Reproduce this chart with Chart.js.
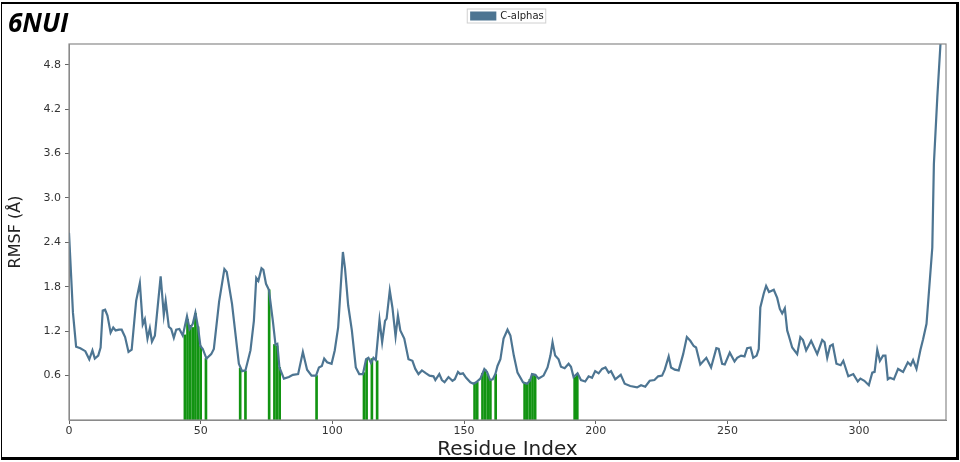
<!DOCTYPE html>
<html>
<head>
<meta charset="utf-8">
<script src="https://cdn.jsdelivr.net/npm/chart.js@4.4.1/dist/chart.umd.min.js"></script>
<style>
  body { margin: 0; background: #fff; }
  #wrap { position: relative; width: 960px; height: 462px; }
  #frame {
    position: absolute; left: 1px; top: 2px; width: 954px; height: 453px;
    border-top: 2px solid #000; border-left: 1px solid #000;
    border-right: 3px solid #000; border-bottom: 3px solid #000;
    pointer-events: none;
  }
  #pdb {
    position: absolute; left: 8px; top: 4px;
    font: italic bold 26px "Open Sans", sans-serif; color: #000;
  }
</style>
</head>
<body>
<div id="wrap">
  <canvas id="chart" width="960" height="462"></canvas>
  <div id="frame"></div>
  <div id="pdb">6NUI</div>
</div>
<script>
var residues = [0, 1.5, 2.7, 4.3, 6.2, 7.7, 8.9, 9.8, 11.1, 12, 12.8, 13.7, 14.6, 15.8, 16.8, 17.7, 19, 20, 21.3, 22.6, 23.8,
  25.5, 26.9, 28, 28.8, 29.8, 30.7, 31.5, 32.6, 34.8, 36, 36.7, 37.9, 38.8, 39.8, 40.7, 41.9, 43.2, 44.8, 45.8, 47, 48, 49,
  49.9, 50.8, 52.2, 54, 55, 57, 59, 59.9, 61.9, 64.5, 65.7, 67, 68.9, 70.2, 71.1, 71.9, 73.1, 73.8, 74.8, 75.9, 77.4, 78.4,
  79.1, 79.9, 81.6, 83.5, 85, 87, 88.8, 90.4, 92.1, 93.8, 94.9, 96, 96.9, 98, 99.7, 100.9, 102.2, 104, 104.8, 106, 107.4,
  108.9, 110.2, 111.6, 112.8, 113.7, 114.7, 115.6, 116.5, 117.9, 118.9, 120, 120.6, 121.8, 122.8, 124, 124.9, 125.8, 127.3,
  128.9, 130.4, 131.5, 132.7, 134, 135.6, 136.9, 138.4, 139.1, 140.6, 141.6, 142.6, 144.1, 145.6, 146.5, 147.7, 148.5, 149.6,
  150.8, 152.4, 153.6, 154.6, 156.2, 157.7, 158.7, 159.9, 160.9, 161.9, 162.7, 163.8, 165, 166.5, 167.6, 168.9, 170.3, 172.4,
  173.9, 175, 175.8, 177, 178.3, 180.2, 181.7, 182.8, 183.6, 184.6, 185.9, 186.8, 188.2, 189.7, 190.6, 191.6, 193.1, 194.4,
  196, 197.3, 198.6, 199.8, 201.1, 202.4, 203.7, 204.9, 205.8, 207.4, 209.5, 211, 213.1, 215.7, 217.2, 218.8, 220.5, 222.3,
  223.7, 225.2, 226.2, 227.7, 228.6, 230, 231.5, 233.2, 234.6, 235.9, 237.2, 238.1, 239.7, 242, 243.8, 245.8, 246.7, 248,
  249, 250.9, 252.7, 253.7, 255.2, 256.5, 257.5, 258.8, 259.8, 261.1, 261.9, 262.5, 263.8, 264.7, 265.8, 267.6, 268.9, 269.9,
  270.8, 271.8, 272.7, 273.3, 274.6, 276.5, 277.7, 278.7, 279.9, 281.8, 284.1, 286, 286.9, 287.9, 289, 290, 291.4, 293, 294,
  295.9, 297.8, 299.5, 300.5, 302, 303.7, 305, 305.9, 306.9, 307.9, 309.1, 310, 310.9, 311.7, 313.2, 314.8, 316.7, 318.5,
  319.6, 320.5, 321.8, 323.3, 324.3, 325.6, 327.8, 328.4, 329.7, 330.9, 332];
var rmsf = [2.53, 1.45, 0.99, 0.97, 0.93, 0.82, 0.94, 0.83, 0.87, 0.98, 1.48, 1.49, 1.41, 1.18, 1.25, 1.21, 1.22, 1.22, 1.12, 0.92, 0.95,
  1.61, 1.85, 1.29, 1.36, 1.10, 1.24, 1.06, 1.14, 1.94, 1.42, 1.61, 1.26, 1.23, 1.11, 1.22, 1.23, 1.14, 1.40, 1.23, 1.30, 1.45, 1.25,
  1.0, 0.96, 0.83, 0.89, 0.96, 1.6, 2.04, 2.0, 1.57, 0.76, 0.66, 0.67, 0.94, 1.34, 1.92, 1.88, 2.05, 2.03, 1.84, 1.76, 1.34, 1.02,
  1.03, 0.71, 0.56, 0.58, 0.61, 0.62, 0.92, 0.68, 0.60, 0.60, 0.71, 0.73, 0.83, 0.78, 0.76, 0.94, 1.25, 2.27, 2.05, 1.55, 1.21,
  0.71, 0.62, 0.62, 0.82, 0.84, 0.77, 0.84, 0.81, 1.35, 1.05, 1.34, 1.37, 1.75, 1.52, 1.13, 1.41, 1.21, 1.10,
  0.82, 0.80, 0.69, 0.62, 0.67, 0.63, 0.60, 0.59, 0.54, 0.62, 0.54, 0.51, 0.58, 0.53, 0.55, 0.65, 0.62, 0.63,
  0.57, 0.51, 0.49, 0.51, 0.56, 0.69, 0.65, 0.54, 0.55, 0.62, 0.73, 0.82, 1.10, 1.22, 1.14, 0.87, 0.64, 0.51,
  0.49, 0.53, 0.62, 0.61, 0.56, 0.60, 0.71, 0.87, 1.05, 0.87, 0.82, 0.72, 0.70, 0.76, 0.72, 0.58, 0.63, 0.54,
  0.52, 0.59, 0.57, 0.66, 0.63, 0.69, 0.71, 0.64, 0.66, 0.55, 0.61, 0.49, 0.46, 0.44, 0.47, 0.45, 0.53, 0.54,
  0.59, 0.60, 0.68, 0.86, 0.71, 0.68, 0.67, 0.89, 1.12, 1.07, 1.0, 0.98, 0.75, 0.84, 0.71, 0.97, 0.96, 0.76,
  0.75, 0.91, 0.79, 0.84, 0.87, 0.86, 0.97, 0.98, 0.84, 0.87, 0.96, 1.52, 1.71, 1.81, 1.73, 1.76, 1.65, 1.50,
  1.44, 1.51, 1.21, 1.14, 0.98, 0.89, 1.12, 1.08, 0.94, 1.07, 0.89, 1.08, 1.05, 0.84, 1.0, 1.02, 0.76, 0.74, 0.80,
  0.59, 0.62, 0.52, 0.56, 0.53, 0.47, 0.64, 0.65, 0.95, 0.80, 0.87, 0.87, 0.55, 0.57, 0.55, 0.69, 0.65, 0.78,
  0.74, 0.81, 0.69, 0.95, 1.09, 1.30, 2.33, 3.46, 4.36, 5.08, 5.6];

// contact residues drawn as green sticks
var contactRes = [44, 45, 46, 47, 48, 49, 50, 52, 65, 67, 76, 78, 79, 80, 94, 112, 113, 115, 117,
  154, 155, 157, 158, 159, 160, 162, 173, 174, 175, 176, 177, 192, 193];
var contactRmsf = [1.15, 1.36, 1.28, 1.25, 1.44, 1.26, 1.0, 0.83, 0.70, 0.66, 1.76, 1.02, 1.0, 0.71, 0.60, 0.64, 0.82, 0.83, 0.80,
  0.50, 0.51, 0.63, 0.68, 0.62, 0.54, 0.62, 0.50, 0.49, 0.55, 0.62, 0.61, 0.58, 0.62];

var xTicks = [0, 50, 100, 150, 200, 250, 300];
var yTicks = [0.6, 1.2, 1.8, 2.4, 3.0, 3.6, 4.2, 4.8];

var linePts = residues.map(function(r, i) { return {x: r, y: rmsf[i]}; });
var barPts = contactRes.map(function(r, i) { return {x: r, y: contactRmsf[i]}; });

// box round the plot and the legend frame, like matplotlib
var boxPlugin = {
  id: 'box',
  afterDraw: function(chart) {
    var a = chart.chartArea, ctx = chart.ctx;
    ctx.save();
    ctx.strokeStyle = '#8a8a8a';
    ctx.lineWidth = 1.2;
    ctx.strokeRect(a.left, a.top, a.right - a.left, a.bottom - a.top);
    var hb = chart.legend.legendHitBoxes[0];
    if (hb) {
      ctx.strokeStyle = '#d0d0d0';
      ctx.lineWidth = 1;
      ctx.strokeRect(hb.left - 4, hb.top - 2, hb.width + 6, hb.height + 4);
    }
    ctx.restore();
  }
};

var config = {
  data: {
    datasets: [{
      type: 'line',
      label: 'C-alphas',
      data: linePts,
      borderColor: '#4d7592',
      backgroundColor: '#4d7592',
      borderWidth: 2.2,
      pointRadius: 0,
      tension: 0,
      order: 0
    }, {
      type: 'bar',
      label: 'contacts',
      data: barPts,
      backgroundColor: '#129412',
      barThickness: 2,
      order: 1
    }]
  },
  options: {
    responsive: false,
    animation: false,
    layout: { padding: { left: 4, right: 14, top: 7, bottom: 0 } },
    plugins: {
      legend: {
        position: 'top',
        fullSize: false,
        labels: {
          boxWidth: 24, boxHeight: 7, padding: 4,
          color: '#222',
          font: { family: 'DejaVu Sans', size: 10 },
          filter: function(item) { return item.text === 'C-alphas'; }
        }
      },
      // empty title used only as a gap between legend and plot
      title: { display: true, text: '', weight: 0, font: { size: 10 }, padding: { top: 0, bottom: 1 } },
      tooltip: { enabled: false }
    },
    scales: {
      x: {
        type: 'linear',
        min: 0, max: 333,
        offset: false,
        afterFit: function(s) { s.height = 42; },
        afterBuildTicks: function(s) { s.ticks = xTicks.map(function(v) { return {value: v}; }); },
        ticks: { color: '#333', font: { family: 'DejaVu Sans', size: 11 }, padding: 1, maxRotation: 0 },
        grid: { display: true, offset: false, drawOnChartArea: false, drawTicks: true, tickLength: 4, color: '#666' },
        border: { display: true, color: '#8a8a8a' },
        title: { display: true, text: 'Residue Index', color: '#222', font: { family: 'DejaVu Sans', size: 20 }, padding: 0 }
      },
      y: {
        min: 0, max: 5.08,
        afterFit: function(s) { s.width = 65; },
        afterBuildTicks: function(s) { s.ticks = yTicks.map(function(v) { return {value: v}; }); },
        ticks: {
          color: '#333', font: { family: 'DejaVu Sans', size: 11 }, padding: 4,
          callback: function(v) { return v.toFixed(1); }
        },
        grid: { display: true, drawOnChartArea: false, drawTicks: true, tickLength: 4, color: '#666' },
        border: { display: true, color: '#8a8a8a' },
        title: { display: true, text: 'RMSF (Å)', color: '#222', font: { family: 'DejaVu Sans', size: 16 }, padding: { top: 2, bottom: 0 } }
      }
    }
  },
  plugins: [boxPlugin]
};

window.onload = function() {
  var ctx = document.getElementById('chart').getContext('2d');
  window.rmsfChart = new Chart(ctx, config);
};
</script>
</body>
</html>
